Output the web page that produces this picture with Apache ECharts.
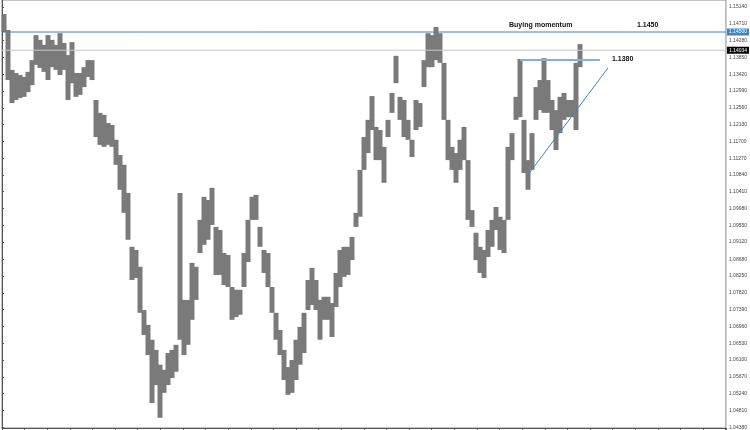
<!DOCTYPE html>
<html>
<head>
<meta charset="utf-8">
<script src="https://cdn.jsdelivr.net/npm/echarts@6/dist/echarts.min.js"></script>
<style>html,body{margin:0;padding:0;background:#fff;}#c{width:750px;height:430px;}</style>
</head>
<body>
<div id="c"></div>
<script>
// Bar highs / lows (one entry per ~4px column)
const highs = [1.1496,1.1455,1.1353,1.1345,1.1340,1.1335,1.1348,1.1378,1.1442,1.1430,
1.1417,1.1442,1.1430,1.1417,1.1447,1.1422,1.1391,1.1424,1.1345,1.1345,
1.1360,1.1378,1.1378,1.1276,1.1243,1.1238,1.1217,1.1212,1.1174,1.1135,
1.1110,1.1038,1.0900,1.0892,1.0849,1.0738,1.0700,1.0662,1.0636,1.0598,
1.0585,1.0628,1.0636,1.0649,1.1038,1.0764,1.0764,1.0859,1.0849,1.0969,
1.1028,1.1020,1.1051,1.0951,1.0943,1.0884,1.0879,1.0797,1.0790,1.0790,
1.0884,1.0969,1.1028,1.1033,1.0951,1.0892,1.0884,1.0797,1.0731,1.0687,
1.0636,1.0592,1.0610,1.0662,1.0695,1.0731,1.0815,1.0846,1.0815,1.0764,
1.0772,1.0772,1.0756,1.0833,1.0892,1.0900,1.0900,1.0925,1.0987,1.1097,
1.1181,1.1225,1.1286,1.1207,1.1199,1.1156,1.1225,1.1294,1.1389,1.1284,
1.1276,1.1225,1.1174,1.1276,1.1268,1.1378,1.1447,1.1442,1.1463,1.1447,
1.1371,1.1225,1.1156,1.1140,1.1174,1.1207,1.1122,1.0994,1.0936,1.0900,
1.0892,1.0943,1.0969,1.1002,1.0977,1.0969,1.1156,1.1191,1.1284,1.1381,
1.1225,1.1122,1.1191,1.1309,1.1327,1.1383,1.1327,1.1276,1.1250,1.1284,
1.1294,1.1276,1.1276,1.1371,1.1419];
const lows = [1.1450,1.1327,1.1268,1.1276,1.1281,1.1284,1.1296,1.1314,1.1366,1.1358,
1.1348,1.1327,1.1360,1.1353,1.1340,1.1353,1.1276,1.1319,1.1284,1.1289,
1.1309,1.1335,1.1327,1.1181,1.1161,1.1156,1.1161,1.1156,1.1110,1.1046,
1.0987,1.0918,1.0815,1.0820,1.0731,1.0674,1.0623,1.0500,1.0546,1.0462,
1.0526,1.0546,1.0564,1.0580,1.0662,1.0623,1.0649,1.0713,1.0764,1.0884,
1.0905,1.0918,1.0956,1.0828,1.0828,1.0802,1.0797,1.0713,1.0720,1.0726,
1.0797,1.0861,1.0969,1.0969,1.0900,1.0833,1.0797,1.0731,1.0662,1.0623,
1.0559,1.0521,1.0526,1.0559,1.0598,1.0628,1.0738,1.0751,1.0738,1.0662,
1.0713,1.0713,1.0669,1.0746,1.0797,1.0823,1.0828,1.0866,1.0951,1.0977,
1.1097,1.1140,1.1199,1.1122,1.1122,1.1064,1.1181,1.1243,1.1319,1.1225,
1.1181,1.1174,1.1130,1.1199,1.1207,1.1309,1.1360,1.1360,1.1378,1.1371,
1.1225,1.1122,1.1097,1.1064,1.1097,1.1122,1.0969,1.0951,1.0866,1.0833,
1.0820,1.0874,1.0900,1.0943,1.0892,1.0884,1.0969,1.1122,1.1225,1.1232,
1.1089,1.1046,1.1097,1.1225,1.1250,1.1243,1.1243,1.1199,1.1148,1.1191,
1.1225,1.1232,1.1232,1.1199,1.1360];
const totalSlots = 181;
const yTicks = [1.15140,1.14710,1.14280,1.13850,1.13420,1.12990,1.12560,1.12130,1.11700,1.11270,
1.10840,1.10410,1.09980,1.09550,1.09120,1.08680,1.08250,1.07820,1.07390,1.06960,
1.06530,1.06100,1.05670,1.05240,1.04810,1.04380];
const resistance = 1.1450;
const lastPrice = 1.14034;
const topLevel = 1.1380;
const trendStart = [131, 1.1084];
const trendEnd = [151, 1.1358];
const levelStart = 129, levelEnd = 149;

const categories = Array.from({length: totalSlots}, (_, i) => String(i));
const ohlc = lows.map((l, i) => [l, highs[i], l, highs[i]]);
const FONT = 'Liberation Sans, Arial';

function levelSeries(value, color, tagBg) {
  return {
    type: 'line', xAxisIndex: 1, yAxisIndex: 0, silent: true, symbol: 'none',
    data: [[0, value], [725, value]],
    lineStyle: {color: color, width: 1},
    endLabel: {show: true, formatter: value.toFixed(5), distance: 1, backgroundColor: tagBg,
      color: '#fff', fontSize: 5, padding: [1, 2], fontFamily: FONT}
  };
}

const chart = echarts.init(document.getElementById('c'));
chart.setOption({
  animation: false,
  backgroundColor: '#ffffff',
  grid: {left: 2, right: 23, top: 0, bottom: 2, show: true, borderColor: '#8a8a8a', borderWidth: 1},
  xAxis: [{
    type: 'category', data: categories, boundaryGap: true,
    axisLine: {show: true, lineStyle: {color: '#555'}},
    axisTick: {show: false}, axisLabel: {show: false}, splitLine: {show: false}
  }, {
    type: 'value', min: 0, max: 725, interval: 22.65, position: 'bottom',
    axisLine: {show: false}, axisLabel: {show: false}, splitLine: {show: false},
    axisTick: {show: true, length: 2, lineStyle: {color: '#555'}}
  }],
  yAxis: {
    type: 'value', position: 'right', min: 1.0436, max: 1.1532,
    axisLine: {show: true, lineStyle: {color: '#555'}},
    splitLine: {show: false},
    axisTick: {show: true, length: 2, customValues: yTicks, lineStyle: {color: '#555'}},
    axisLabel: {customValues: yTicks, formatter: v => v.toFixed(5), fontSize: 5, margin: 3,
      color: '#444', fontFamily: FONT}
  },
  series: [
    levelSeries(lastPrice, '#c8c8c8', '#000'),
    levelSeries(resistance, '#3d85c6', '#3d85c6'),
    {
    type: 'candlestick', data: ohlc, barWidth: 5, barMaxWidth: 6,
    itemStyle: {color: '#7a7a7a', color0: '#7a7a7a', borderColor: '#7a7a7a', borderColor0: '#7a7a7a', borderWidth: 0},
    markLine: {
      silent: true, symbol: 'none', animation: false,
      data: [
        [{coord: [levelStart, topLevel], lineStyle: {color: '#7fb0e0', width: 2, type: 'solid'},
          label: {show: true, position: 'end', distance: 12, formatter: topLevel.toFixed(4),
            color: '#111', fontSize: 7, fontWeight: 'bold', fontFamily: FONT}},
         {coord: [levelEnd, topLevel]}],
        [{coord: trendStart, lineStyle: {color: '#3d85c6', width: 1, type: 'solid'}, label: {show: false}},
         {coord: trendEnd}]
      ]
    }
  }],
  graphic: [
    {type: 'text', left: 509, top: 22, style: {text: 'Buying momentum', fontSize: 7, fontWeight: 'bold', fill: '#111', fontFamily: FONT}},
    {type: 'text', left: 637, top: 22, style: {text: resistance.toFixed(4), fontSize: 7, fontWeight: 'bold', fill: '#111', fontFamily: FONT}}
  ]
});
</script>
</body>
</html>
